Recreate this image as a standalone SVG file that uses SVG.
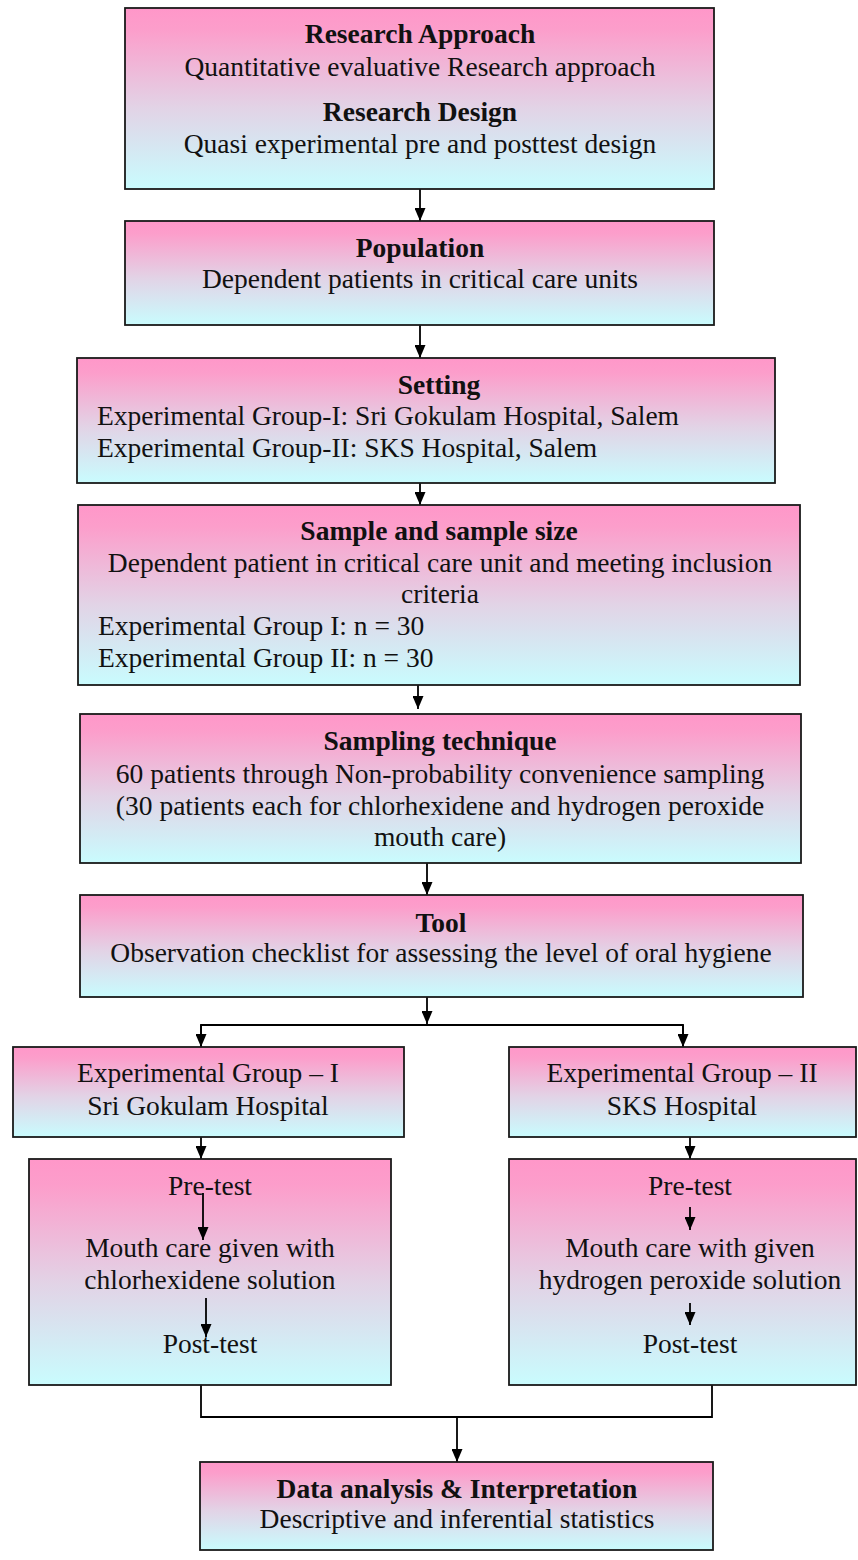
<svg xmlns="http://www.w3.org/2000/svg" width="858" height="1560" viewBox="0 0 858 1560">
<defs>
<linearGradient id="grad" x1="0" y1="0" x2="0" y2="1">
<stop offset="0" stop-color="#FF97C9"/>
<stop offset="0.12" stop-color="#FC9ECB"/>
<stop offset="0.55" stop-color="#E2D3E6"/>
<stop offset="1" stop-color="#C9FCFE"/>
</linearGradient>
<marker id="ah" viewBox="0 0 13 11" refX="13" refY="5.5" markerWidth="13" markerHeight="11" markerUnits="userSpaceOnUse" orient="auto">
<path d="M0,0 L13,5.5 L0,11 z" fill="#000"/>
</marker>
<style>
.box{fill:url(#grad);stroke:#1a1a1a;stroke-width:1.8}
.t{font-family:"Liberation Serif","Times New Roman",serif;font-size:27.5px;fill:#111}
.c{text-anchor:middle}
.b{font-weight:bold}
.ln{fill:none;stroke:#000;stroke-width:1.8}
.ar{fill:none;stroke:#000;stroke-width:1.8;marker-end:url(#ah)}
</style>
</defs>
<rect width="858" height="1560" fill="#fff"/>

<g id="connectors">
<line class="ar" x1="420" y1="189" x2="420" y2="221"/>
<line class="ar" x1="420" y1="325" x2="420" y2="358"/>
<line class="ar" x1="420" y1="483" x2="420" y2="505"/>
<line class="ar" x1="418" y1="685" x2="418" y2="709"/>
<line class="ar" x1="427" y1="863" x2="427" y2="895"/>
<line class="ar" x1="427" y1="997" x2="427" y2="1024"/>
<polyline class="ln" points="201,1047 201,1025 683,1025 683,1047"/>
<line class="ar" x1="201" y1="1025" x2="201" y2="1047"/>
<line class="ar" x1="683" y1="1025" x2="683" y2="1047"/>
<line class="ar" x1="201" y1="1137" x2="201" y2="1159"/>
<line class="ar" x1="690" y1="1137" x2="690" y2="1159"/>
<polyline class="ln" points="201,1385 201,1417 712,1417 712,1385"/>
<line class="ar" x1="457" y1="1417" x2="457" y2="1462"/>
</g>

<g id="n-approach">
<rect class="box" x="125" y="8" width="589" height="181"/>
<text class="t c b" x="420" y="43">Research Approach</text>
<text class="t c" x="420" y="76">Quantitative evaluative Research approach</text>
<text class="t c b" x="420" y="121">Research Design</text>
<text class="t c" x="420" y="153">Quasi experimental pre and posttest design</text>
</g>

<g id="n-population">
<rect class="box" x="125" y="221" width="589" height="104"/>
<text class="t c b" x="420" y="257">Population</text>
<text class="t c" x="420" y="288">Dependent patients in critical care units</text>
</g>

<g id="n-setting">
<rect class="box" x="77" y="358" width="698" height="125"/>
<text class="t c b" x="439" y="394">Setting</text>
<text class="t" x="97" y="425">Experimental Group-I: Sri Gokulam Hospital, Salem</text>
<text class="t" x="97" y="457">Experimental Group-II: SKS Hospital, Salem</text>
</g>

<g id="n-sample">
<rect class="box" x="78" y="505" width="722" height="180"/>
<text class="t c b" x="439" y="540">Sample and sample size</text>
<text class="t c" x="440" y="572">Dependent patient in critical care unit and meeting inclusion</text>
<text class="t c" x="440" y="603">criteria</text>
<text class="t" x="98" y="635">Experimental Group I: n = 30</text>
<text class="t" x="98" y="667">Experimental Group II: n = 30</text>
</g>

<g id="n-technique">
<rect class="box" x="80" y="714" width="721" height="149"/>
<text class="t c b" x="440" y="750">Sampling technique</text>
<text class="t c" x="440" y="783">60 patients through Non-probability convenience sampling</text>
<text class="t c" x="440" y="815">(30 patients each for chlorhexidene and hydrogen peroxide</text>
<text class="t c" x="440" y="846">mouth care)</text>
</g>

<g id="n-tool">
<rect class="box" x="80" y="895" width="723" height="102"/>
<text class="t c b" x="441" y="932">Tool</text>
<text class="t c" x="441" y="962">Observation checklist for assessing the level of oral hygiene</text>
</g>

<g id="n-group1">
<rect class="box" x="13" y="1047" width="391" height="90"/>
<text class="t c" x="208" y="1082">Experimental Group – I</text>
<text class="t c" x="208" y="1115">Sri Gokulam Hospital</text>
</g>

<g id="n-group2">
<rect class="box" x="509" y="1047" width="347" height="90"/>
<text class="t c" x="682" y="1082">Experimental Group – II</text>
<text class="t c" x="682" y="1115">SKS Hospital</text>
</g>

<g id="n-proc1">
<rect class="box" x="29" y="1159" width="362" height="226"/>
<text class="t c" x="210" y="1195">Pre-test</text>
<line class="ar" x1="203" y1="1193" x2="203" y2="1240"/>
<text class="t c" x="210" y="1257">Mouth care given with</text>
<text class="t c" x="210" y="1289">chlorhexidene solution</text>
<line class="ar" x1="206" y1="1298" x2="206" y2="1337"/>
<text class="t c" x="210" y="1353">Post-test</text>
</g>

<g id="n-proc2">
<rect class="box" x="509" y="1159" width="347" height="226"/>
<text class="t c" x="690" y="1195">Pre-test</text>
<line class="ar" x1="690" y1="1207" x2="690" y2="1230"/>
<text class="t c" x="690" y="1257">Mouth care with given</text>
<text class="t c" x="690" y="1289">hydrogen peroxide solution</text>
<line class="ar" x1="690" y1="1303" x2="690" y2="1325"/>
<text class="t c" x="690" y="1353">Post-test</text>
</g>

<g id="n-analysis">
<rect class="box" x="200" y="1462" width="513" height="88"/>
<text class="t c b" x="457" y="1498">Data analysis &amp; Interpretation</text>
<text class="t c" x="457" y="1528">Descriptive and inferential statistics</text>
</g>
</svg>
